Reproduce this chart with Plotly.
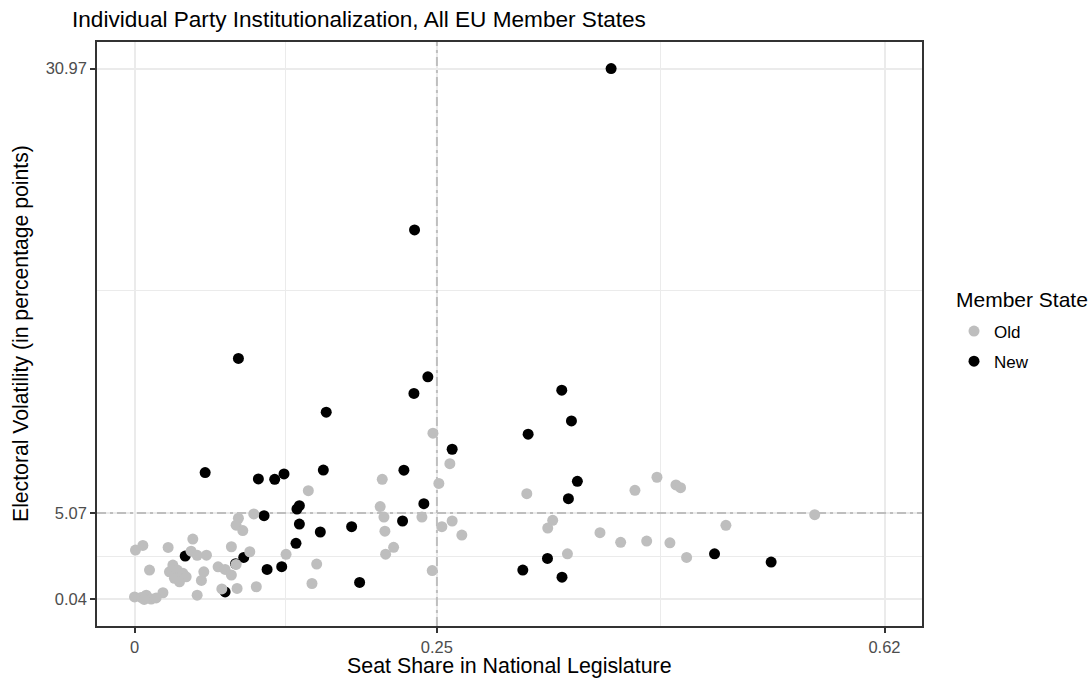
import plotly.graph_objects as go

# Parties from old EU member states: seat share and electoral volatility
old_seat = [0.2467, 0.2607, 0.2048, 0.2516, 0.1437, 0.3243, 0.4137, 0.4319, 0.4476, 0.4514,
            0.2031, 0.0986, 0.5623, 0.2062, 0.2376, 0.0859, 0.2626, 0.3457, 0.0840, 0.4889,
            0.2541, 0.3416, 0.0895, 0.2070, 0.3848, 0.2706, 0.4234, 0.4019, 0.4426, 0.0482,
            0.0801, 0.0278, 0.0069, 0.0008, 0.2142, 0.0468, 0.0953, 0.2076, 0.0518, 0.0595,
            0.1253, 0.3579, 0.4564, 0.1506, 0.0840, 0.0317, 0.0691, 0.0124, 0.0749, 0.0573,
            0.0289, 0.0353, 0.0400, 0.2461, 0.0801, 0.0427, 0.0330, 0.0372, 0.0553, 0.1467,
            0.1007, 0.0848, 0.0722, 0.0235, 0.0518, 0.0000, 0.0055, 0.0097, 0.0138, 0.0179,
            0.0080]
old_vol = [9.73, 7.95, 7.04, 6.80, 6.38, 6.20, 6.40, 7.16, 6.71, 6.55,
           5.45, 5.02, 4.98, 4.84, 4.84, 4.77, 4.61, 4.65, 4.37, 4.36,
           4.28, 4.20, 4.05, 4.02, 3.93, 3.79, 3.44, 3.37, 3.34, 3.56,
           3.11, 3.07, 3.19, 2.92, 3.08, 2.85, 2.82, 2.68, 2.61, 2.62,
           2.67, 2.70, 2.49, 2.10, 2.08, 2.04, 1.94, 1.75, 1.79, 1.65,
           1.65, 1.75, 1.56, 1.72, 1.46, 1.36, 1.27, 1.07, 1.15, 0.97,
           0.78, 0.68, 0.65, 0.43, 0.29, 0.19, 0.16, 0.29, 0.06, 0.13,
           0.04]

# Parties from new EU member states
new_seat = [0.3940, 0.2315, 0.0859, 0.2425, 0.3532, 0.2310, 0.1585, 0.3612, 0.3254, 0.2626,
            0.0584, 0.1236, 0.1561, 0.2227, 0.1024, 0.1159, 0.3661, 0.3587, 0.2392, 0.1363,
            0.1343, 0.1071, 0.2216, 0.1363, 0.1795, 0.1536, 0.1335, 0.0419, 0.0903, 0.4795,
            0.3414, 0.5263, 0.1096, 0.1217, 0.3210, 0.3534, 0.1861, 0.0749, 0.0836]
new_vol = [30.97, 21.57, 14.08, 13.01, 12.23, 12.04, 10.95, 10.44, 9.67, 8.79,
           7.43, 7.35, 7.58, 7.57, 7.06, 7.04, 6.92, 5.91, 5.62, 5.50,
           5.31, 4.92, 4.61, 4.43, 4.28, 3.97, 3.31, 2.57, 2.49, 2.70,
           2.43, 2.22, 1.79, 1.95, 1.75, 1.34, 1.03, 0.48, 2.12]

# Reference values marked with dashed lines
seat_ref = 0.25
vol_ref = 5.07

x_ticks = [0, 0.25, 0.62]
x_labels = ["0", "0.25", "0.62"]
y_ticks = [0.04, 5.07, 30.97]
y_labels = ["0.04", "5.07", "30.97"]

FONT = "Liberation Sans"
GRID = "#ebebeb"
DARK = "#333333"
REF_LINE = dict(color="#bebebe", width=2, dash="9px,4px,3px,4px")

x_lo, x_hi = min(x_ticks), max(x_ticks)
y_lo, y_hi = min(y_ticks), max(y_ticks)
xpad = (x_hi - x_lo) * 0.05
ypad = (y_hi - y_lo) * 0.05
x_range = [x_lo - xpad, x_hi + xpad]
y_range = [y_lo - ypad, y_hi + ypad]

fig = go.Figure()

# dashed reference lines, spanning the whole panel
fig.add_trace(go.Scatter(x=[seat_ref, seat_ref], y=y_range, mode="lines", line=REF_LINE,
                         showlegend=False, hoverinfo="skip"))
fig.add_trace(go.Scatter(x=x_range, y=[vol_ref, vol_ref], mode="lines", line=REF_LINE,
                         showlegend=False, hoverinfo="skip"))

fig.add_trace(go.Scatter(
    x=new_seat, y=new_vol, mode="markers", name="New",
    marker=dict(color="#000000", size=11, line=dict(width=0)),
    legendrank=2, legendgroup="new",
))
fig.add_trace(go.Scatter(
    x=old_seat, y=old_vol, mode="markers", name="Old",
    marker=dict(color="#bebebe", size=11, line=dict(width=0)),
    legendrank=1, legendgroup="old",
))

axis_common = dict(
    showline=True, linecolor=DARK, linewidth=1.5, mirror=True,
    ticks="outside", ticklen=5, tickwidth=1.5, tickcolor=DARK,
    showgrid=True, gridcolor=GRID, gridwidth=2, zeroline=False,
    tickfont=dict(family=FONT, size=16.5, color="#4d4d4d"),
    automargin=False,
)

# plot area in pixels: left 97, right 922, top 42, bottom 626
PL, PR, PT, PB = 97, 922, 42, 626


def px_x(px):
    return (px - PL) / (PR - PL)


def px_y(py):
    return (PB - py) / (PB - PT)


fig.update_layout(
    width=1091, height=682,
    margin=dict(l=PL, r=1091 - PR, t=PT, b=682 - PB, autoexpand=False),
    paper_bgcolor="white", plot_bgcolor="white",
    font=dict(family=FONT, color="black"),
    title=dict(
        text="Individual Party Institutionalization, All EU Member States",
        x=72 / 1091, xanchor="left", y=1 - 19 / 682, yanchor="middle",
        font=dict(family=FONT, size=22.6, color="black"),
    ),
    xaxis=dict(
        range=x_range,
        tickmode="array", tickvals=x_ticks, ticktext=x_labels,
        minor=dict(tickmode="array", tickvals=[(x_ticks[0] + x_ticks[1]) / 2, (x_ticks[1] + x_ticks[2]) / 2],
                   showgrid=True, gridcolor=GRID, gridwidth=1, ticks=""),
        **axis_common,
    ),
    yaxis=dict(
        range=y_range,
        tickmode="array", tickvals=y_ticks, ticktext=y_labels,
        minor=dict(tickmode="array", tickvals=[(y_ticks[0] + y_ticks[1]) / 2, (y_ticks[1] + y_ticks[2]) / 2],
                   showgrid=True, gridcolor=GRID, gridwidth=1, ticks=""),
        **axis_common,
    ),
    legend=dict(
        font=dict(family=FONT, size=17),
        x=px_x(954), xanchor="left", y=px_y(346.5), yanchor="middle",
        tracegroupgap=5, itemwidth=30,
        bgcolor="rgba(0,0,0,0)",
    ),
    annotations=[
        dict(text="Seat Share in National Legislature", xref="paper", yref="paper",
             x=0.5, y=px_y(666), xanchor="center", yanchor="middle", showarrow=False,
             font=dict(family=FONT, size=21.4, color="black")),
        dict(text="Electoral Volatility (in percentage points)", xref="paper", yref="paper",
             x=px_x(21), y=0.5, xanchor="center", yanchor="middle", textangle=-90, showarrow=False,
             font=dict(family=FONT, size=21.2, color="black")),
        dict(text="Member State", xref="paper", yref="paper",
             x=px_x(954), y=px_y(299.5), xanchor="left", yanchor="middle", showarrow=False,
             font=dict(family=FONT, size=21, color="black")),
    ],
)

fig.write_html("out.html")
